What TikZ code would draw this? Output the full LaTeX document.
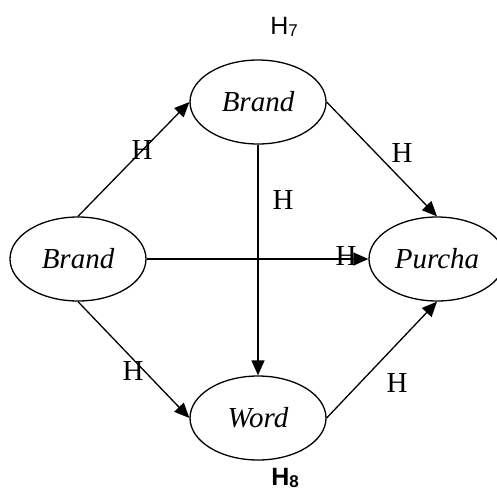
\documentclass[tikz,border=0pt]{standalone}
\usepackage{fontspec}
\setmainfont{Liberation Serif}
\newfontfamily\labsans{Liberation Sans}
\usetikzlibrary{shapes.geometric,arrows.meta}
\begin{document}
\begin{tikzpicture}[x=1pt,y=-1pt,
  ovalnode/.style={draw,ellipse,line width=1.3pt,minimum width=136pt,minimum height=84pt,inner sep=0pt,
    font=\fontsize{29}{34}\selectfont\itshape},
  conn/.style={line width=1.3pt,-{Triangle[length=15pt,width=13pt]}},
  hlab/.style={inner sep=0pt,font=\fontsize{29}{34}\selectfont},
  hsans/.style={inner sep=0pt,font=\labsans\fontsize{25}{30}\selectfont}]
\useasboundingbox (0,0) rectangle (497,491);
\node[ovalnode] (top) at (258,102) {Brand};
\node[ovalnode] (left) at (78,259) {Brand};
\node[ovalnode] (pur) at (437,259) {Purcha};
\node[ovalnode] (word) at (258,418) {Word};
\draw[conn] (left.north) -- (top.west);
\draw[conn] (left.south) -- (word.west);
\draw[conn] (left.east) -- (pur.west);
\draw[conn] (top.east) -- (pur.north);
\draw[conn] (top.south) -- (word.north);
\draw[conn] (word.east) -- (pur.south);
\node[hlab] (h1) at (142,150) {H};
\node[hlab] (h2) at (402,153) {H};
\node[hlab] (h3) at (283,200) {H};
\node[hlab] (h4) at (346,256) {H};
\node[hlab] (h5) at (133,371) {H};
\node[hlab] (h6) at (397,383) {H};
\node[hsans] (h7) at (284,27) {H\raisebox{-2pt}{\fontsize{17}{20}\selectfont 7}};
\node[hsans] (h8) at (285,478) {\bfseries H\raisebox{-2pt}{\fontsize{17}{20}\selectfont 8}};
\end{tikzpicture}
\end{document}
